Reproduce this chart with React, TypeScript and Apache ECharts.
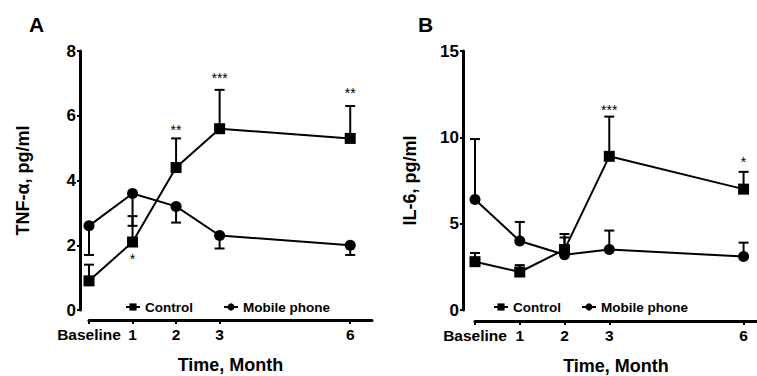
import React, { useEffect, useRef } from "react";
import * as echarts from "echarts";

const months = [0, 1, 2, 3, 6];
const monthTickLabels = ["Baseline", "1", "2", "3", "6"];

// Panel A: TNF-alpha
const ctrlA = [0.9, 2.1, 4.4, 5.6, 5.3];
const ctrlErrA = [1.4, 2.9, 5.3, 6.8, 6.3];
const mobA = [2.6, 3.6, 3.2, 2.3, 2.0];
const mobErrA = [1.7, 2.6, 2.7, 1.9, 1.7];
const starXA = [1, 2, 3, 6];
const starYA = [1.7, 5.68, 7.28, 6.82];
const starTextA = ["*", "**", "***", "**"];

// Panel B: IL-6
const ctrlB = [2.8, 2.2, 3.5, 8.9, 7.0];
const ctrlErrB = [3.3, 2.6, 4.2, 11.2, 8.0];
const mobB = [6.4, 4.0, 3.2, 3.5, 3.1];
const mobErrB = [9.9, 5.1, 4.4, 4.6, 3.9];
const starXB = [3, 6];
const starYB = [11.8, 8.8];
const starTextB = ["***", "*"];

const FONT = "Liberation Sans";
const INK = "#000";

function pairs(ys: number[]) {
  return months.map((m, i) => [m, ys[i]]);
}
function errTriples(ys: number[], es: number[]) {
  return months.map((m, i) => [m, ys[i], es[i]]);
}

const errRender = (params: any, api: any) => {
  const x = api.value(0);
  const y = api.value(1);
  const e = api.value(2);
  const p0 = api.coord([x, y]);
  const p1 = api.coord([x, e]);
  const style = { stroke: INK, lineWidth: 2 };
  return {
    type: "group",
    children: [
      { type: "line", shape: { x1: p0[0], y1: p0[1], x2: p1[0], y2: p1[1] }, style },
      { type: "line", shape: { x1: p1[0] - 5, y1: p1[1], x2: p1[0] + 5, y2: p1[1] }, style },
    ],
  };
};

function starRender(texts: string[]) {
  return (params: any, api: any) => {
    const p = api.coord([api.value(0), api.value(1)]);
    return {
      type: "text",
      x: p[0],
      y: p[1] + 4,
      style: {
        text: texts[params.dataIndex],
        fill: INK,
        font: `14px ${FONT}`,
        textAlign: "center",
        textVerticalAlign: "middle",
      },
    };
  };
}

export default function App() {
  const ref = useRef<HTMLDivElement>(null);
  useEffect(() => {
    if (!ref.current) return;
    const chart = echarts.init(ref.current, null, { renderer: "svg" });
    const xAxisCommon = (gridIndex: number, max: number, offset: number) => ({
      type: "value",
      gridIndex,
      min: 0,
      max,
      offset,
      name: "Time, Month",
      nameLocation: "middle",
      nameGap: 36,
      nameTextStyle: { fontFamily: FONT, fontWeight: "bold", fontSize: 18, color: INK },
      splitLine: { show: false },
      axisLine: { show: true, onZero: false, lineStyle: { color: INK, width: 3 } },
      axisTick: { show: true, customValues: months, length: 4, lineStyle: { color: INK, width: 2 } },
      axisLabel: {
        customValues: months,
        margin: 6,
        fontFamily: FONT,
        fontWeight: "bold",
        fontSize: 15.5,
        color: INK,
        formatter: (v: number) => monthTickLabels[months.indexOf(v)] ?? "",
      },
    });
    const yAxisCommon = (gridIndex: number, max: number, interval: number, name: string, offset: number, gap: number) => ({
      type: "value",
      gridIndex,
      min: 0,
      max,
      interval,
      offset,
      name,
      nameLocation: "middle",
      nameGap: gap,
      nameRotate: 90,
      nameTextStyle: { fontFamily: FONT, fontWeight: "bold", fontSize: 18, color: INK },
      splitLine: { show: false },
      axisLine: { show: true, onZero: false, lineStyle: { color: INK, width: 3 } },
      axisTick: { show: true, length: 3, lineStyle: { color: INK, width: 2 } },
      axisLabel: { margin: 4, fontFamily: FONT, fontWeight: "bold", fontSize: 17, color: INK },
    });
    const lineSeries = (name: string, data: number[][], symbol: string, idx: number) => ({
      type: "line",
      name,
      data,
      xAxisIndex: idx,
      yAxisIndex: idx,
      symbol,
      symbolSize: 11,
      clip: false,
      z: 5,
      itemStyle: { color: INK },
      lineStyle: { color: INK, width: 2 },
    });
    const errSeries = (data: number[][], idx: number) => ({
      type: "custom",
      data,
      xAxisIndex: idx,
      yAxisIndex: idx,
      renderItem: errRender,
      clip: false,
      z: 3,
      silent: true,
    });
    const starSeries = (xs: number[], ys: number[], texts: string[], idx: number) => ({
      type: "custom",
      data: xs.map((x, i) => [x, ys[i]]),
      xAxisIndex: idx,
      yAxisIndex: idx,
      renderItem: starRender(texts),
      clip: false,
      z: 6,
      silent: true,
    });
    const legendCommon = (left: number, gap: number) => ({
      left,
      top: 295,
      orient: "horizontal",
      itemGap: gap,
      itemWidth: 14,
      itemHeight: 9,
      selectedMode: false,
      data: ["Control", "Mobile phone"],
      textStyle: { fontFamily: FONT, fontWeight: "bold", fontSize: 13.5, color: INK },
    });
    chart.setOption({
      animation: false,
      backgroundColor: "#fff",
      grid: [
        { left: 89, right: 385, top: 51, bottom: 66, outerBoundsMode: "none", containLabel: false },
        { left: 475, right: 0, top: 51, bottom: 66, outerBoundsMode: "none", containLabel: false },
      ],
      xAxis: [xAxisCommon(0, 6.5, 10), xAxisCommon(1, 6.3, 11)],
      yAxis: [
        yAxisCommon(0, 8, 2, "TNF-\u03b1, pg/ml", 9, 48),
        yAxisCommon(1, 15, 5, "IL-6, pg/ml", 12, 44),
      ],
      legend: [legendCommon(120, 30), legendCommon(488, 20)],
      graphic: [
        { type: "text", left: 29, top: 14, style: { text: "A", font: `bold 21px ${FONT}`, fill: INK } },
        { type: "text", left: 418, top: 14, style: { text: "B", font: `bold 21px ${FONT}`, fill: INK } },
      ],
      series: [
        errSeries(errTriples(ctrlA, ctrlErrA), 0),
        errSeries(errTriples(mobA, mobErrA), 0),
        lineSeries("Control", pairs(ctrlA), "rect", 0),
        lineSeries("Mobile phone", pairs(mobA), "circle", 0),
        starSeries(starXA, starYA, starTextA, 0),
        errSeries(errTriples(ctrlB, ctrlErrB), 1),
        errSeries(errTriples(mobB, mobErrB), 1),
        lineSeries("Control", pairs(ctrlB), "rect", 1),
        lineSeries("Mobile phone", pairs(mobB), "circle", 1),
        starSeries(starXB, starYB, starTextB, 1),
      ],
    });
    return () => chart.dispose();
  }, []);
  return <div ref={ref} style={{ width: 757, height: 376, position: "absolute", left: 0, top: 0 }} />;
}
